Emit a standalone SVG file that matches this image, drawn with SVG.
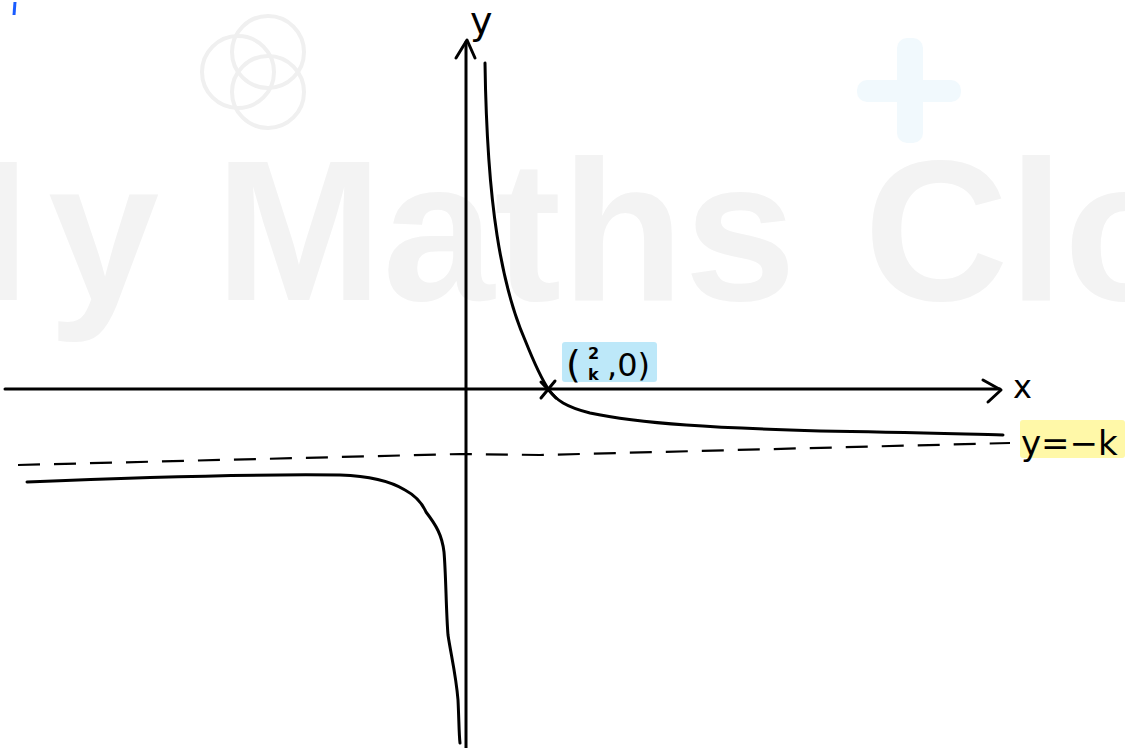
<svg xmlns="http://www.w3.org/2000/svg" width="1125" height="748" viewBox="0 0 1125 748">
<style>
.wm{font-family:"Liberation Sans",Arial,sans-serif;font-weight:bold;font-size:200px;fill:#f3f3f3}
.ic{fill:none;stroke:#f0f0f0;stroke-width:4}
.ink{fill:none;stroke:#000;stroke-width:3;stroke-linecap:round;stroke-linejoin:round}
.dash{fill:none;stroke:#000;stroke-width:2.2;stroke-dasharray:22 14}
.lbl{font-family:"DejaVu Sans","Noto Sans",sans-serif;fill:#000}
</style>
<rect width="1125" height="748" fill="#fff"/>
<g id="watermark">
<text class="wm" x="30" y="300" text-anchor="end">M</text>
<text class="wm" x="48" y="300">y</text>
<text class="wm" x="215" y="300" textLength="581" lengthAdjust="spacingAndGlyphs">Maths</text>
<text class="wm" x="864" y="300">Cloud</text>
<circle class="ic" cx="238" cy="72" r="36"/>
<circle class="ic" cx="268" cy="52" r="36"/>
<circle class="ic" cx="268" cy="92" r="36"/>
<rect x="897" y="38" width="26" height="105" rx="10" fill="#f1f9fd"/>
<rect x="857" y="80" width="104" height="22" rx="10" fill="#f1f9fd"/>
<path d="M15 2 L14 15" stroke="#1a5cff" stroke-width="3" fill="none"/>
</g>
<g id="axes">
<path class="ink" d="M5 389 L1000 389"/>
<path class="ink" d="M983 380 L1001 390 L988 402"/>
<path class="ink" d="M466 748 L466 42"/>
<path class="ink" d="M456 58 L467 40 L475 58"/>
</g>
<g id="connectors">
<path class="dash" d="M18 465 L460 454 L540 455 L1010 443"/>
<path class="ink" d="M485 63 C486 130 490 190 497 235 C504 280 512 310 525 340 C535 365 542 380 549 390 C556 400 566 407 590 413 C640 424 720 428 820 431 C900 432 960 434 1003 435"/>
<path class="ink" d="M27 482 C120 478 250 474 340 475 C370 476 392 482 405 490 C418 497 423 505 426 512 C436 525 442 535 444 552 C446 575 446 610 448 635 C451 655 456 675 458 700 C459 720 459 735 460 743"/>
<path class="ink" d="M541 382 L556 398 M555 381 L541 398"/>
</g>
<g id="label-y">
<text class="lbl" x="470" y="34" font-size="38">y</text>
</g>
<g id="label-x">
<text class="lbl" x="1013" y="398" font-size="32">x</text>
</g>
<g id="label-point">
<rect x="562" y="342" width="95" height="40" rx="3" fill="#bde8f9"/>
<text class="lbl" x="566" y="377" font-size="38">(</text>
<text class="lbl" x="588" y="359" font-size="16" font-weight="bold">2</text>
<text class="lbl" x="588" y="380" font-size="16" font-weight="bold">k</text>
<text class="lbl" x="607" y="376" font-size="32">,0)</text>
</g>
<g id="label-asymptote">
<rect x="1020" y="420" width="105" height="38" rx="3" fill="#fff8a8"/>
<text class="lbl" x="1021" y="455" font-size="34">y=−k</text>
</g>
</svg>
